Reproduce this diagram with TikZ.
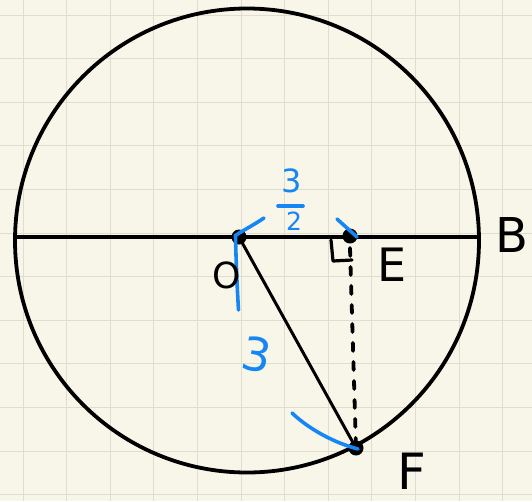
\documentclass[tikz,border=0pt]{standalone}
\usepackage{fontspec}
\setmainfont{DejaVu Sans}
\definecolor{paper}{RGB}{248,246,233}
\definecolor{gridc}{RGB}{224,221,208}
\definecolor{pen}{RGB}{0,0,0}
\definecolor{bluepen}{RGB}{22,134,244}
\tikzset{
  gridline/.style={draw=gridc, line width=1pt},
  thick stroke/.style={draw=pen, line width=3.8pt, line cap=round},
  seg/.style={draw=pen, line width=3pt, line cap=round},
  bluestroke/.style={draw=bluepen, line width=3.6pt, line cap=round},
  dotline/.style={draw=pen, line width=3.8pt, line cap=round, dash pattern=on 8pt off 11pt},
  pt/.style={circle, fill=pen, inner sep=0pt, minimum size=15pt},
  lbl/.style={text=pen, inner sep=0pt},
  bluelbl/.style={text=bluepen, inner sep=0pt}
}
\begin{document}
\begin{tikzpicture}[x=1pt, y=-1pt]
\useasboundingbox (0,0) rectangle (532,501);
\fill[paper] (0,0) rectangle (532,501);
% grid
\foreach \k in {0,...,11} {
  \draw[gridline] ({23+43.6*\k},0) -- ({23+43.6*\k},501);
  \draw[gridline] (0,{15+43.6*\k}) -- (532,{15+43.6*\k});
}
% circle
\draw[thick stroke] (247,240.5) circle[radius=232pt];
% coordinates
\coordinate (A) at (15,237);
\coordinate (Bp) at (479,237);
% diameter
\draw[thick stroke] (A) -- (Bp);
% points
\node[pt] (O) at (239,237) {};
\node[pt] (E) at (350,236) {};
\node[pt] (F) at (356,448) {};
% segments
\draw[seg] (O.center) -- (F.center);
\draw[dotline] ([yshift=-12pt]E.center) -- (F.center);
% right angle mark
\draw[draw=pen, line width=3.2pt, line cap=round, line join=round] (331,240) -- (333,261) -- (352,260);
% blue construction arcs
\draw[bluestroke] (264,218) .. controls (252,226) and (242,231) .. (235.5,235.5)
  .. controls (236,260) and (237,285) .. (238.5,310);
\draw[bluestroke] (337,219) -- (357,237);
\draw[bluestroke] (292,413) .. controls (310,430) and (335,443) .. (358,449);
% blue labels
\node[bluelbl, font=\fontsize{32}{32}\selectfont] (three) at (292,181) {3};
\draw[bluestroke] (278,206) -- (303,206);
\node[bluelbl, font=\fontsize{25}{25}\selectfont] (two) at (294,221) {2};
\node[bluelbl, font=\fontsize{46}{46}\selectfont, rotate=-10] (r3) at (257,355) {3};
% black labels
\node[lbl, font=\fontsize{36}{36}\selectfont] (Olbl) at (227,275) {O};
\node[lbl, font=\fontsize{46}{46}\selectfont] (Elbl) at (392,265) {E};
\node[lbl, font=\fontsize{48}{48}\selectfont] (Blbl) at (512,235) {B};
\node[lbl, font=\fontsize{50}{50}\selectfont] (Flbl) at (412,471) {F};
\end{tikzpicture}
\end{document}
